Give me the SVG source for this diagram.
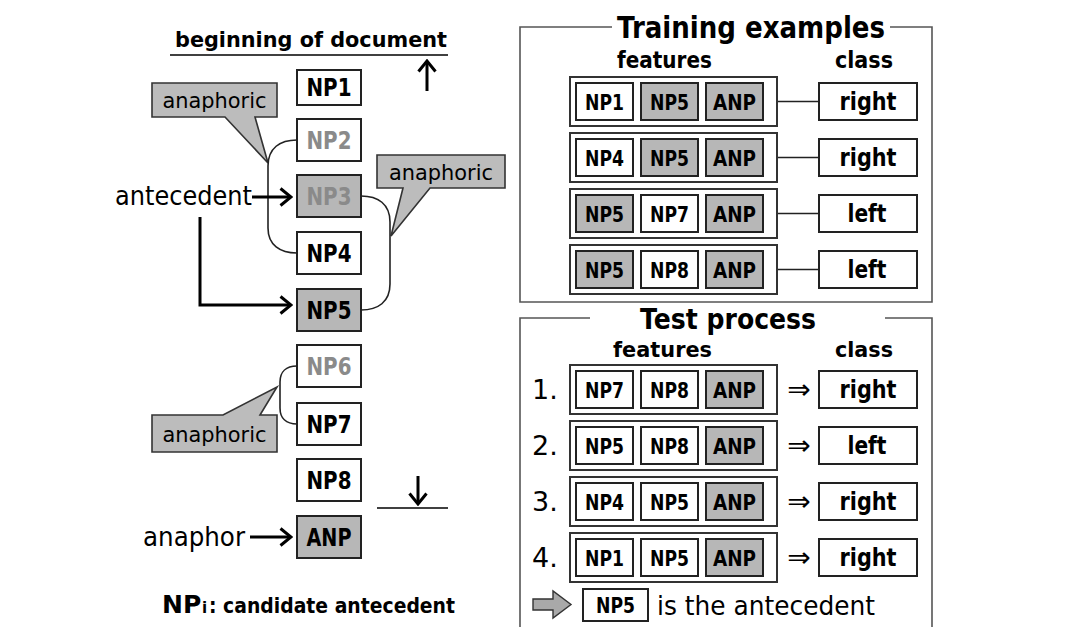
<svg xmlns="http://www.w3.org/2000/svg" width="1074" height="627" viewBox="0 0 1074 627">
  <style>
    .box { fill: #ffffff; stroke: #222222; stroke-width: 2; }
    .gbox { fill: #b7b7b7; stroke: #222222; stroke-width: 2; }
    .row { fill: #ffffff; stroke: #333333; stroke-width: 2; }
    .frame { fill: none; stroke: #555555; stroke-width: 1.6; }
    .wire { fill: none; stroke: #222222; stroke-width: 1.6; }
    .arrow { fill: none; stroke: #000000; stroke-width: 3; }
    .callout { fill: #bcbcbc; stroke: #333333; stroke-width: 1.6; stroke-linejoin: miter; }
    .b { font-family: "DejaVu Sans", Verdana, sans-serif; font-weight: bold; fill: #000000; }
    .r { font-family: "DejaVu Sans", Verdana, sans-serif; fill: #000000; }
    .np { font-size: 24px; text-anchor: middle; }
    .cell { font-size: 22px; text-anchor: middle; }
    .cls { font-size: 24px; text-anchor: middle; }
    .num { font-size: 27px; }
    .imp { font-size: 28px; text-anchor: middle; }
    .dim { fill: #8a8a8a; }
  </style>
  <defs>
    <marker id="chev" viewBox="0 0 14 20" refX="12" refY="10" markerWidth="14" markerHeight="20" markerUnits="userSpaceOnUse" orient="auto">
      <path d="M1.5,1.5 L12,10 L1.5,18.5" fill="none" stroke="#000" stroke-width="3"/>
    </marker>
  </defs>

  <rect width="1074" height="627" fill="#ffffff"/>

  <!-- document boundaries -->
  <g id="doc-begin">
    <text class="b" x="175" y="47" font-size="22" textLength="272" lengthAdjust="spacingAndGlyphs">beginning of document</text>
    <line x1="170" y1="55" x2="448" y2="55" stroke="#000" stroke-width="1.6"/>
    <line class="arrow" x1="427" y1="91" x2="427" y2="61" stroke-width="2.6" marker-end="url(#chev)"/>
  </g>
  <g id="doc-end">
    <line class="arrow" x1="418" y1="476" x2="418" y2="504" stroke-width="2.6" marker-end="url(#chev)"/>
    <line x1="377" y1="508" x2="448" y2="508" stroke="#000" stroke-width="1.6"/>
  </g>

  <!-- noun phrase sequence -->
  <g id="np1"><rect class="box" x="297" y="70" width="64" height="35"/><text class="b np" x="329" y="96" textLength="45" lengthAdjust="spacingAndGlyphs">NP1</text></g>
  <g id="np2"><rect class="box" x="297" y="119" width="64" height="42"/><text class="b np dim" x="329" y="148.7" textLength="45" lengthAdjust="spacingAndGlyphs">NP2</text></g>
  <g id="np3"><rect class="gbox" x="297" y="175" width="64" height="42"/><text class="b np dim" x="329" y="204.7" textLength="45" lengthAdjust="spacingAndGlyphs">NP3</text></g>
  <g id="np4"><rect class="box" x="297" y="232" width="64" height="42"/><text class="b np" x="329" y="261.7" textLength="45" lengthAdjust="spacingAndGlyphs">NP4</text></g>
  <g id="np5"><rect class="gbox" x="297" y="289" width="64" height="42"/><text class="b np" x="329" y="318.7" textLength="45" lengthAdjust="spacingAndGlyphs">NP5</text></g>
  <g id="np6"><rect class="box" x="297" y="345" width="64" height="42"/><text class="b np dim" x="329" y="374.7" textLength="45" lengthAdjust="spacingAndGlyphs">NP6</text></g>
  <g id="np7"><rect class="box" x="297" y="403" width="64" height="42"/><text class="b np" x="329" y="432.7" textLength="45" lengthAdjust="spacingAndGlyphs">NP7</text></g>
  <g id="np8"><rect class="box" x="297" y="459" width="64" height="42"/><text class="b np" x="329" y="488.7" textLength="45" lengthAdjust="spacingAndGlyphs">NP8</text></g>
  <g id="anp"><rect class="gbox" x="297" y="516" width="64" height="42"/><text class="b np" x="329" y="545.7" textLength="45" lengthAdjust="spacingAndGlyphs">ANP</text></g>

  <!-- callouts -->
  <g id="callout-np2">
    <path class="callout" d="M152,83 H277 V117 H255 L268,163 L225,117 H152 Z"/>
    <text class="r" x="214.5" y="107.5" font-size="22" text-anchor="middle" textLength="104" lengthAdjust="spacingAndGlyphs">anaphoric</text>
  </g>
  <g id="callout-np3">
    <path class="callout" d="M377,155 H505 V188 H430 L391,236 L403,188 H377 Z"/>
    <text class="r" x="441" y="179.5" font-size="22" text-anchor="middle" textLength="104" lengthAdjust="spacingAndGlyphs">anaphoric</text>
  </g>
  <g id="callout-np6">
    <path class="callout" d="M152,415 H223 L277,387 L260,415 H277 V452 H152 Z"/>
    <text class="r" x="214.5" y="441.5" font-size="22" text-anchor="middle" textLength="104" lengthAdjust="spacingAndGlyphs">anaphoric</text>
  </g>

  <!-- role labels -->
  <g id="label-antecedent">
    <text class="r" x="115" y="205" font-size="26" textLength="137" lengthAdjust="spacingAndGlyphs">antecedent</text>
  </g>
  <g id="label-anaphor">
    <text class="r" x="143" y="546" font-size="26" textLength="102" lengthAdjust="spacingAndGlyphs">anaphor</text>
  </g>
  <g id="legend">
    <text class="b" x="162" y="613" font-size="25">NP</text>
    <text class="b" x="202" y="613" font-size="15">i</text>
    <text class="b" x="209" y="613" font-size="22" textLength="246" lengthAdjust="spacingAndGlyphs">: candidate antecedent</text>
  </g>

  <!-- connectors -->
  <g id="connectors">
    <path class="wire" d="M297,140 C280,140 268,148 268,166 L268,228 C268,245 280,253 297,253"/>
    <path class="wire" d="M361,196 C378,196 390,204 390,222 L390,284 C390,302 378,310 361,310"/>
    <path class="wire" d="M297,366 C286,366 280,372 280,382 L280,408 C280,418 286,424 297,424"/>
    <line class="arrow" x1="252" y1="197" x2="291" y2="197" marker-end="url(#chev)"/>
    <polyline class="arrow" points="200,217 200,305 291,305" marker-end="url(#chev)"/>
    <line class="arrow" x1="250" y1="537" x2="291" y2="537" marker-end="url(#chev)"/>
    <line class="wire" x1="777" y1="101.5" x2="819" y2="101.5"/>
    <line class="wire" x1="777" y1="157.5" x2="819" y2="157.5"/>
    <line class="wire" x1="777" y1="213.5" x2="819" y2="213.5"/>
    <line class="wire" x1="777" y1="269.5" x2="819" y2="269.5"/>
  </g>

  <!-- training examples panel -->
  <g id="training">
    <path class="frame" d="M612,27 H520 V302 H932 V27 H890"/>
    <text class="b" x="617" y="38" font-size="31" textLength="268" lengthAdjust="spacingAndGlyphs">Training examples</text>
    <text class="b" x="617" y="68" font-size="23" textLength="95" lengthAdjust="spacingAndGlyphs">features</text>
    <text class="b" x="835" y="68" font-size="23" textLength="58" lengthAdjust="spacingAndGlyphs">class</text>
  </g>
  <g id="train-1">
    <rect class="row" x="570" y="77" width="207" height="49"/>
    <rect class="box" x="576" y="83" width="57" height="37"/><text class="b cell" x="604.5" y="109.5" textLength="39" lengthAdjust="spacingAndGlyphs">NP1</text>
    <rect class="gbox" x="641" y="83" width="57" height="37"/><text class="b cell" x="669.5" y="109.5" textLength="39" lengthAdjust="spacingAndGlyphs">NP5</text>
    <rect class="gbox" x="706" y="83" width="57" height="37"/><text class="b cell" x="734.5" y="109.5" textLength="43" lengthAdjust="spacingAndGlyphs">ANP</text>
    <rect class="box" x="819" y="83" width="98" height="37"/><text class="b cls" x="868" y="110" textLength="57" lengthAdjust="spacingAndGlyphs">right</text>
  </g>
  <g id="train-2">
    <rect class="row" x="570" y="133" width="207" height="49"/>
    <rect class="box" x="576" y="139" width="57" height="37"/><text class="b cell" x="604.5" y="165.5" textLength="39" lengthAdjust="spacingAndGlyphs">NP4</text>
    <rect class="gbox" x="641" y="139" width="57" height="37"/><text class="b cell" x="669.5" y="165.5" textLength="39" lengthAdjust="spacingAndGlyphs">NP5</text>
    <rect class="gbox" x="706" y="139" width="57" height="37"/><text class="b cell" x="734.5" y="165.5" textLength="43" lengthAdjust="spacingAndGlyphs">ANP</text>
    <rect class="box" x="819" y="139" width="98" height="37"/><text class="b cls" x="868" y="166" textLength="57" lengthAdjust="spacingAndGlyphs">right</text>
  </g>
  <g id="train-3">
    <rect class="row" x="570" y="189" width="207" height="49"/>
    <rect class="gbox" x="576" y="195" width="57" height="37"/><text class="b cell" x="604.5" y="221.5" textLength="39" lengthAdjust="spacingAndGlyphs">NP5</text>
    <rect class="box" x="641" y="195" width="57" height="37"/><text class="b cell" x="669.5" y="221.5" textLength="39" lengthAdjust="spacingAndGlyphs">NP7</text>
    <rect class="gbox" x="706" y="195" width="57" height="37"/><text class="b cell" x="734.5" y="221.5" textLength="43" lengthAdjust="spacingAndGlyphs">ANP</text>
    <rect class="box" x="819" y="195" width="98" height="37"/><text class="b cls" x="867" y="222" textLength="39" lengthAdjust="spacingAndGlyphs">left</text>
  </g>
  <g id="train-4">
    <rect class="row" x="570" y="245" width="207" height="49"/>
    <rect class="gbox" x="576" y="251" width="57" height="37"/><text class="b cell" x="604.5" y="277.5" textLength="39" lengthAdjust="spacingAndGlyphs">NP5</text>
    <rect class="box" x="641" y="251" width="57" height="37"/><text class="b cell" x="669.5" y="277.5" textLength="39" lengthAdjust="spacingAndGlyphs">NP8</text>
    <rect class="gbox" x="706" y="251" width="57" height="37"/><text class="b cell" x="734.5" y="277.5" textLength="43" lengthAdjust="spacingAndGlyphs">ANP</text>
    <rect class="box" x="819" y="251" width="98" height="37"/><text class="b cls" x="867" y="278" textLength="39" lengthAdjust="spacingAndGlyphs">left</text>
  </g>

  <!-- test process panel -->
  <g id="test">
    <path class="frame" d="M590,318 H520 V627 M885,318 H932 V627"/>
    <text class="b" x="640" y="329" font-size="29" textLength="176" lengthAdjust="spacingAndGlyphs">Test process</text>
    <text class="b" x="613" y="357" font-size="22" textLength="99" lengthAdjust="spacingAndGlyphs">features</text>
    <text class="b" x="835" y="357" font-size="22" textLength="58" lengthAdjust="spacingAndGlyphs">class</text>
  </g>
  <g id="test-1">
    <text class="r num" x="532" y="399">1.</text>
    <rect class="row" x="570" y="365" width="207" height="49"/>
    <rect class="box" x="576" y="371" width="57" height="37"/><text class="b cell" x="604.5" y="397.5" textLength="39" lengthAdjust="spacingAndGlyphs">NP7</text>
    <rect class="box" x="641" y="371" width="57" height="37"/><text class="b cell" x="669.5" y="397.5" textLength="39" lengthAdjust="spacingAndGlyphs">NP8</text>
    <rect class="gbox" x="706" y="371" width="57" height="37"/><text class="b cell" x="734.5" y="397.5" textLength="43" lengthAdjust="spacingAndGlyphs">ANP</text>
    <text class="r imp" x="799" y="399">⇒</text>
    <rect class="box" x="819" y="371" width="98" height="37"/><text class="b cls" x="868" y="398" textLength="57" lengthAdjust="spacingAndGlyphs">right</text>
  </g>
  <g id="test-2">
    <text class="r num" x="532" y="455">2.</text>
    <rect class="row" x="570" y="421" width="207" height="49"/>
    <rect class="box" x="576" y="427" width="57" height="37"/><text class="b cell" x="604.5" y="453.5" textLength="39" lengthAdjust="spacingAndGlyphs">NP5</text>
    <rect class="box" x="641" y="427" width="57" height="37"/><text class="b cell" x="669.5" y="453.5" textLength="39" lengthAdjust="spacingAndGlyphs">NP8</text>
    <rect class="gbox" x="706" y="427" width="57" height="37"/><text class="b cell" x="734.5" y="453.5" textLength="43" lengthAdjust="spacingAndGlyphs">ANP</text>
    <text class="r imp" x="799" y="455">⇒</text>
    <rect class="box" x="819" y="427" width="98" height="37"/><text class="b cls" x="867" y="454" textLength="39" lengthAdjust="spacingAndGlyphs">left</text>
  </g>
  <g id="test-3">
    <text class="r num" x="532" y="511">3.</text>
    <rect class="row" x="570" y="477" width="207" height="49"/>
    <rect class="box" x="576" y="483" width="57" height="37"/><text class="b cell" x="604.5" y="509.5" textLength="39" lengthAdjust="spacingAndGlyphs">NP4</text>
    <rect class="box" x="641" y="483" width="57" height="37"/><text class="b cell" x="669.5" y="509.5" textLength="39" lengthAdjust="spacingAndGlyphs">NP5</text>
    <rect class="gbox" x="706" y="483" width="57" height="37"/><text class="b cell" x="734.5" y="509.5" textLength="43" lengthAdjust="spacingAndGlyphs">ANP</text>
    <text class="r imp" x="799" y="511">⇒</text>
    <rect class="box" x="819" y="483" width="98" height="37"/><text class="b cls" x="868" y="510" textLength="57" lengthAdjust="spacingAndGlyphs">right</text>
  </g>
  <g id="test-4">
    <text class="r num" x="532" y="567">4.</text>
    <rect class="row" x="570" y="533" width="207" height="49"/>
    <rect class="box" x="576" y="539" width="57" height="37"/><text class="b cell" x="604.5" y="565.5" textLength="39" lengthAdjust="spacingAndGlyphs">NP1</text>
    <rect class="box" x="641" y="539" width="57" height="37"/><text class="b cell" x="669.5" y="565.5" textLength="39" lengthAdjust="spacingAndGlyphs">NP5</text>
    <rect class="gbox" x="706" y="539" width="57" height="37"/><text class="b cell" x="734.5" y="565.5" textLength="43" lengthAdjust="spacingAndGlyphs">ANP</text>
    <text class="r imp" x="799" y="567">⇒</text>
    <rect class="box" x="819" y="539" width="98" height="37"/><text class="b cls" x="868" y="566" textLength="57" lengthAdjust="spacingAndGlyphs">right</text>
  </g>
  <g id="result">
    <polygon points="533,599 553,599 553,591 571,604.5 553,618 553,610 533,610" fill="#a9a9a9" stroke="#333" stroke-width="1.4"/>
    <rect class="box" x="583" y="589" width="65" height="32"/>
    <text class="b cell" x="615.5" y="613" textLength="39" lengthAdjust="spacingAndGlyphs">NP5</text>
    <text class="r" x="657" y="615" font-size="27" textLength="218" lengthAdjust="spacingAndGlyphs">is the antecedent</text>
  </g>
</svg>
